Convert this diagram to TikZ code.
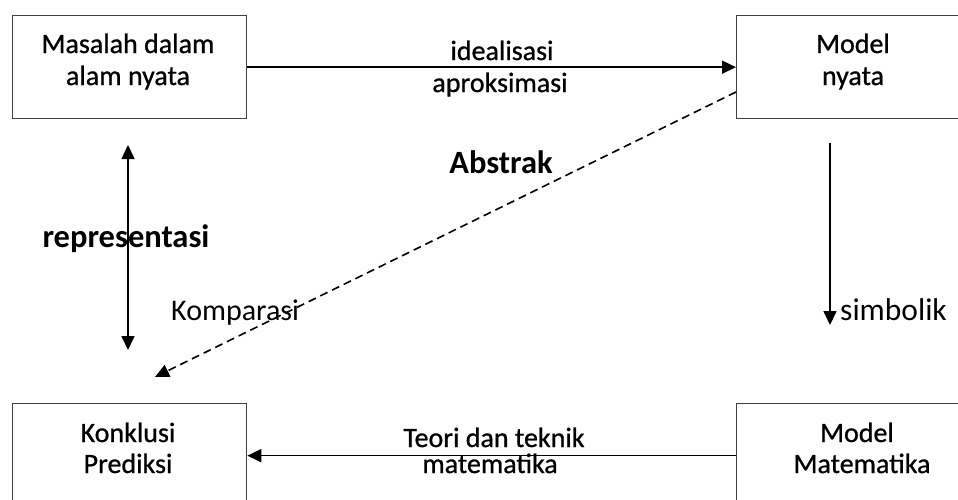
\documentclass[tikz,border=0pt]{standalone}
\usepackage{fontspec}
\setmainfont{Carlito}
\newfontfamily\heavyfont{Carlito}[RawFeature={embolden=0.8}]
\usetikzlibrary{arrows.meta}
\begin{document}
\begin{tikzpicture}[x=1pt, y=-1pt,
  box/.style={draw=black!75, line width=1.3pt, minimum width=234pt,
    minimum height=103pt, inner sep=0pt, anchor=north west},
  txt/.style={font=\heavyfont\fontsize{28}{33}\selectfont, inner sep=0pt, anchor=base},
  lbl/.style={font=\fontsize{30}{34}\selectfont, inner sep=0pt, anchor=base west},
  boldlbl/.style={font=\fontsize{32.5}{36}\selectfont\bfseries, inner sep=0pt, anchor=base},
  tip/.tip={Triangle[length=14pt, width=13pt]},
  conn/.style={line width=1.6pt, -tip},
  dashconn/.style={line width=1.6pt, dash pattern=on 8pt off 5pt, -tip},
]
\useasboundingbox (0,0) rectangle (958,499);
\clip (0,0) rectangle (958,499);

% boxes
\node[box] (real) at (12,15) {};
\node[box] (model) at (736,15) {};
\node[box, minimum height=104pt] (concl) at (12,403) {};
\node[box, minimum height=104pt] (math) at (736,403) {};

% box texts
\node[txt] (realA) at (128,53) {Masalah dalam};
\node[txt] (realB) at (128,85) {alam nyata};
\node[txt] (modelA) at (853,53) {Model};
\node[txt] (modelB) at (853,85) {nyata};
\node[txt] (conclA) at (128,442) {Konklusi};
\node[txt] (conclB) at (128,473) {Prediksi};
\node[txt] (mathA) at (857,442) {Model};
\node[txt] (mathB) at (862,473) {Matematika};

% connector labels
\node[txt] (ideal) at (502,60) {idealisasi};
\node[txt] (aprok) at (500,92) {aproksimasi};
\node[boldlbl] (abstr) at (501,173) {Abstrak};
\node[boldlbl] (repr) at (126,247) {representasi};
\node[lbl] (komp) at (171,320) {Komparasi};
\node[lbl, font=\fontsize{31.5}{36}\selectfont] (simb) at (840,320) {simbolik};
\node[txt] (teori) at (494,447) {Teori dan teknik};
\node[txt] (mtk) at (490,473) {matematika};

% free ends of connectors
\coordinate (dashA) at (736,92);
\coordinate (dashB) at (155,377);
\coordinate (repA) at (128,145);
\coordinate (repB) at (128,350);
\coordinate (symA) at (830,143);
\coordinate (symB) at (830,325);

% connectors
\draw[conn] (real.east) -- (model.west);
\draw[conn] (math.west) -- (concl.east);
\draw[dashconn] (dashA) -- (dashB);
\draw[line width=1.6pt, tip-tip] (repA) -- (repB);
\draw[conn] (symA) -- (symB);
\end{tikzpicture}
\end{document}
